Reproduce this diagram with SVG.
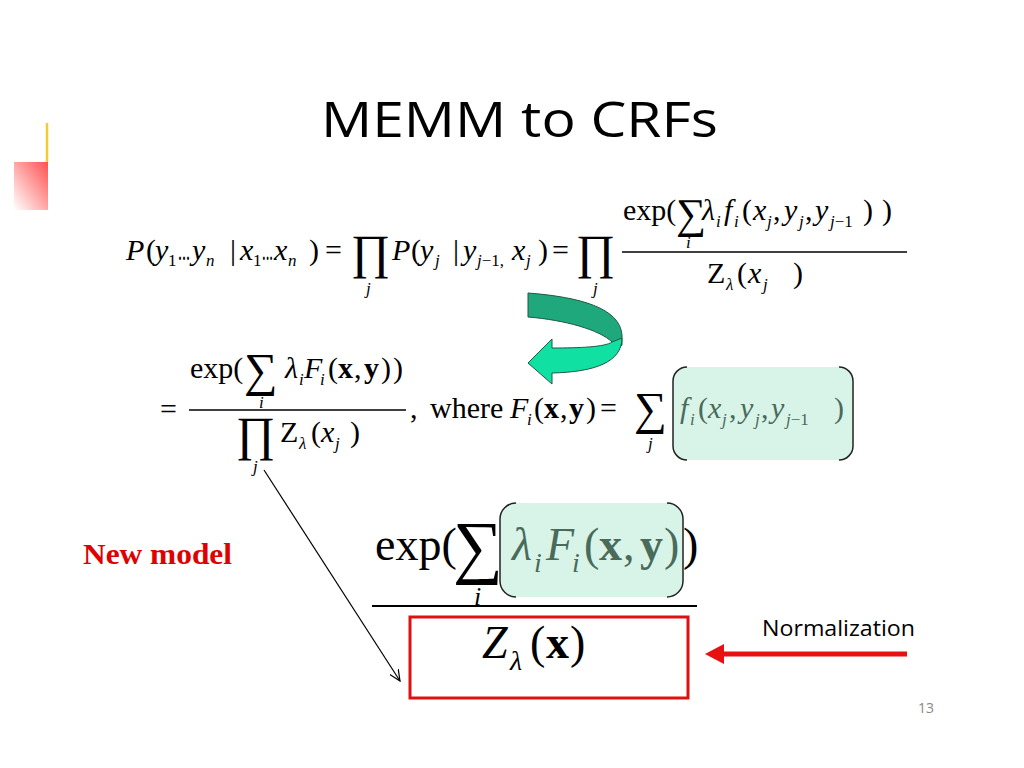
<svg xmlns="http://www.w3.org/2000/svg" width="1024" height="768" viewBox="0 0 1024 768">
<style>
.m{font-family:"Liberation Serif",serif;fill:#000}
.i{font-style:italic}
.b{font-weight:bold}
.s1{font-size:30px}
.sb{font-size:17px}
.g{fill:#4a6a5a}
.big{font-size:46px}
.bs{font-size:28px}
.fr{stroke:#000;stroke-width:1.4}
.bx{fill:#d8f4e8;stroke:none}
.br{fill:none;stroke:#222;stroke-width:1.5}
</style>
<defs>
<linearGradient id="rg" x1="1" y1="0" x2="0" y2="1">
<stop offset="0" stop-color="#ff5050"/>
<stop offset="1" stop-color="#ffffff"/>
</linearGradient>
<marker id="open" viewBox="0 0 12 12" refX="11" refY="6" markerWidth="12" markerHeight="12" orient="auto" markerUnits="userSpaceOnUse">
<path d="M0,1 L11,6 L0,11" fill="none" stroke="#000" stroke-width="1.2"/>
</marker>
</defs>
<rect width="1024" height="768" fill="#fff"/>
<g id="decoration">
<rect x="14" y="162" width="34" height="48" fill="url(#rg)"/>
<line x1="47" y1="123" x2="47" y2="162" stroke="#f2cc30" stroke-width="2.5"/>
</g>
<g id="title">
<text x="321" y="137" font-family="'Open Sans','Noto Sans',sans-serif" font-size="50" textLength="397" lengthAdjust="spacingAndGlyphs" fill="#000">MEMM to CRFs</text>
</g>
<g id="eq1" class="m">
<text class="s1 i" x="126" y="260">P</text>
<text class="s1" x="146" y="260">(</text>
<text class="s1 i" x="155" y="260">y</text>
<text class="sb" x="168" y="266">1</text>
<text class="s1" x="178" y="260" textLength="12" lengthAdjust="spacingAndGlyphs">...</text>
<text class="s1 i" x="192" y="260">y</text>
<text class="sb i" x="206" y="266">n</text>
<text class="s1" x="230" y="260">|</text>
<text class="s1 i" x="240" y="260">x</text>
<text class="sb" x="253" y="266">1</text>
<text class="s1" x="262" y="260" textLength="11" lengthAdjust="spacingAndGlyphs">...</text>
<text class="s1 i" x="274" y="260">x</text>
<text class="sb i" x="288" y="266">n</text>
<text class="s1" x="309" y="260">)</text>
<text class="s1" x="325" y="260">=</text>
<text x="351" y="268" font-size="48">∏</text>
<text class="sb i" x="366" y="294">j</text>
<text class="s1 i" x="392" y="260">P</text>
<text class="s1" x="411" y="260">(</text>
<text class="s1 i" x="420" y="260">y</text>
<text class="sb i" x="435" y="266">j</text>
<text class="s1" x="453" y="260">|</text>
<text class="s1 i" x="463" y="260">y</text>
<text class="sb" x="477" y="266"><tspan class="i">j</tspan>−1,</text>
<text class="s1 i" x="512" y="260">x</text>
<text class="sb i" x="526" y="266">j</text>
<text class="s1" x="538" y="260">)</text>
<text class="s1" x="552" y="260">=</text>
<text x="576" y="268" font-size="48">∏</text>
<text class="sb i" x="593" y="294">j</text>
<text class="s1" x="623" y="220">exp(</text>
<text x="676" y="228" font-size="42">∑</text>
<text class="sb i" x="686" y="248">i</text>
<text class="s1 i" x="702" y="220">λ</text>
<text class="sb i" x="716" y="227">i</text>
<text class="s1 i" x="724" y="220">f</text>
<text class="sb i" x="734" y="227">i</text>
<text class="s1" x="742" y="220">(</text>
<text class="s1 i" x="753" y="220">x</text>
<text class="sb i" x="767" y="227">j</text>
<text class="s1" x="773" y="220">,</text>
<text class="s1 i" x="784" y="220">y</text>
<text class="sb i" x="799" y="227">j</text>
<text class="s1" x="805" y="220">,</text>
<text class="s1 i" x="815" y="220">y</text>
<text class="sb" x="830" y="227"><tspan class="i">j</tspan>−1</text>
<text class="s1" x="863" y="220">)</text>
<text class="s1" x="882" y="220">)</text>
<line class="fr" x1="622" y1="252" x2="907" y2="252"/>
<text class="s1" x="707" y="283">Z</text>
<text class="sb i" x="726" y="290">λ</text>
<text class="s1" x="737" y="283">(</text>
<text class="s1 i" x="748" y="283">x</text>
<text class="sb i" x="763" y="290">j</text>
<text class="s1" x="793" y="283">)</text>
</g>
<g id="curved-arrow">
<path d="M528,293 C580,297 620,308 622,335 L622,345 C618,350 615,346 612,342 C600,330 565,320 528,317 Z" fill="#1fa87b" stroke="#1d5a44" stroke-width="1"/>
<path d="M612,342 C605,347 580,348 552,348 L552,339 L528,363 L552,384 L552,373 C595,372 622,362 622,338 Z" fill="#10e0a2" stroke="#1d5a44" stroke-width="1"/>
</g>
<g id="eq2" class="m">
<text class="s1" x="190" y="378">exp(</text>
<text x="244" y="386" font-size="47">∑</text>
<text class="sb i" x="259" y="408">i</text>
<text class="s1 i" x="285" y="378">λ</text>
<text class="sb i" x="299" y="385">i</text>
<text class="s1 i" x="304" y="378">F</text>
<text class="sb i" x="320" y="385">i</text>
<text class="s1" x="328" y="378">(</text>
<text class="s1 b" x="338" y="378">x</text>
<text class="s1" x="354" y="378">,</text>
<text class="s1 b" x="364" y="378">y</text>
<text class="s1" x="381" y="378">)</text>
<text class="s1" x="393" y="378">)</text>
<text class="s1" x="160" y="419">=</text>
<line class="fr" x1="189" y1="410" x2="406" y2="410"/>
<text x="236" y="450" font-size="48">∏</text>
<text class="sb i" x="253" y="472">j</text>
<text class="s1" x="280" y="442">Z</text>
<text class="sb i" x="299" y="449">λ</text>
<text class="s1" x="311" y="442">(</text>
<text class="s1 i" x="321" y="442">x</text>
<text class="sb i" x="335" y="449">j</text>
<text class="s1" x="350" y="442">)</text>
<text class="s1" x="410" y="418">,</text>
<text class="s1" x="430" y="418">where</text>
<text class="s1 i" x="510" y="418">F</text>
<text class="sb i" x="527" y="425">i</text>
<text class="s1" x="534" y="418">(</text>
<text class="s1 b" x="544" y="418">x</text>
<text class="s1" x="560" y="418">,</text>
<text class="s1 b" x="569" y="418">y</text>
<text class="s1" x="586" y="418">)</text>
<text class="s1" x="600" y="418">=</text>
<text x="634" y="424" font-size="46">∑</text>
<text class="sb i" x="648" y="449">j</text>
</g>
<g id="box-f">
<rect class="bx" x="673" y="367" width="180" height="93" rx="14"/>
<path class="br" d="M687,367 A14,14 0 0 0 673,381 L673,446 A14,14 0 0 0 687,460"/>
<path class="br" d="M839,367 A14,14 0 0 1 853,381 L853,446 A14,14 0 0 1 839,460"/>
<g class="m">
<text class="s1 i g" x="680" y="418">f</text>
<text class="sb i g" x="690" y="425">i</text>
<text class="s1 g" x="698" y="418">(</text>
<text class="s1 i g" x="708" y="418">x</text>
<text class="sb i g" x="722" y="425">j</text>
<text class="s1 g" x="729" y="418">,</text>
<text class="s1 i g" x="740" y="418">y</text>
<text class="sb i g" x="755" y="425">j</text>
<text class="s1 g" x="761" y="418">,</text>
<text class="s1 i g" x="771" y="418">y</text>
<text class="sb g" x="786" y="425"><tspan class="i">j</tspan>−1</text>
<text class="s1 g" x="834" y="418">)</text>
</g>
</g>
<g id="new-model">
<text x="83" y="564" font-family="'Liberation Serif',serif" font-weight="bold" font-size="30" textLength="149" lengthAdjust="spacingAndGlyphs" fill="#e00000">New model</text>
</g>
<g id="model" class="m">
<text class="big" x="375" y="560">exp(</text>
<text x="453" y="570" font-size="70">∑</text>
<text class="i" x="474" y="605" font-size="26">i</text>
<rect class="bx" x="500" y="503" width="183" height="94" rx="16"/>
<path class="br" d="M516,503 A16,16 0 0 0 500,519 L500,581 A16,16 0 0 0 516,597"/>
<path class="br" d="M667,503 A16,16 0 0 1 683,519 L683,581 A16,16 0 0 1 667,597"/>
<text class="big i g" x="512" y="560">λ</text>
<text class="bs i g" x="534" y="572">i</text>
<text class="big i g" x="546" y="560">F</text>
<text class="bs i g" x="572" y="572">i</text>
<text class="big g" x="584" y="560">(</text>
<text class="big b g" x="599" y="560">x</text>
<text class="big g" x="623" y="560">,</text>
<text class="big b g" x="640" y="560">y</text>
<text class="big g" x="664" y="560">)</text>
<text class="big" x="683" y="560">)</text>
<line x1="372" y1="606" x2="697" y2="606" stroke="#000" stroke-width="2"/>
</g>
<g id="normalizer">
<rect x="410" y="617" width="278" height="81" fill="none" stroke="#e01010" stroke-width="3"/>
<text class="m big i" x="482" y="658">Z</text>
<text class="m bs i" x="510" y="670">λ</text>
<text class="m big" x="530" y="658">(</text>
<text class="m big b" x="546" y="658">x</text>
<text class="m big" x="570" y="658">)</text>
</g>
<g id="normalization-label">
<text x="762" y="636" font-family="'Open Sans','Noto Sans',sans-serif" font-size="21" textLength="153" lengthAdjust="spacingAndGlyphs" fill="#000">Normalization</text>
</g>
<g id="connectors">
<line x1="264" y1="470" x2="400" y2="681" stroke="#000" stroke-width="1.2" marker-end="url(#open)"/>
<line x1="907" y1="654" x2="720" y2="654" stroke="#e81010" stroke-width="5"/>
<polygon points="705,654 724,644 724,664" fill="#e81010"/>
</g>
<text x="918" y="713" font-family="'Open Sans','Noto Sans',sans-serif" font-size="14" fill="#888">13</text>
</svg>
